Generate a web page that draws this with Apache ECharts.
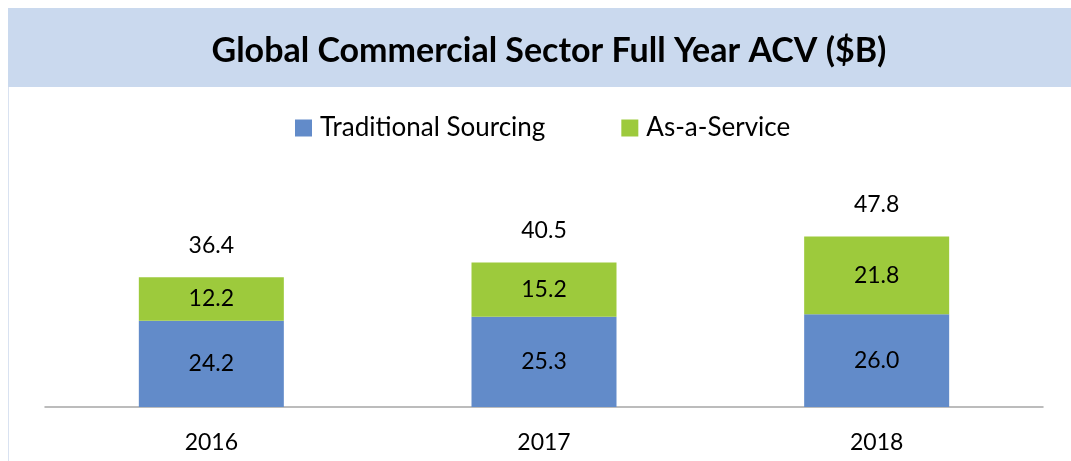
<!DOCTYPE html>
<html>
<head>
<meta charset="utf-8">
<script src="https://cdn.jsdelivr.net/npm/echarts@6/dist/echarts.min.js"></script>
<style>
html,body{margin:0;padding:0;background:#fff;}
#c{width:1071px;height:461px;}
</style>
</head>
<body>
<div id="c"></div>
<script>
var categories = ['2016', '2017', '2018'];
var traditional = [24.2, 25.3, 26.0];
var asAService = [12.2, 15.2, 21.8];
var totals = [36.4, 40.5, 47.8];
var seriesNames = ['Traditional Sourcing', 'As-a-Service'];
var titleText = 'Global Commercial Sector Full Year ACV ($B)';

var FONT = 'Lato';
var chart = echarts.init(document.getElementById('c'), null, {renderer: 'canvas'});
chart.setOption({
  backgroundColor: '#ffffff',
  animation: false,
  graphic: [
    {type: 'rect', shape: {x: 8.5, y: 8.5, width: 1075, height: 470}, style: {fill: 'none', stroke: '#d9e2f1', lineWidth: 1}, z: 0},
    {type: 'rect', shape: {x: 8, y: 8, width: 1063, height: 79}, style: {fill: '#cad9ee'}, z: 0},
    {type: 'text', x: 549, y: 51, style: {text: titleText, font: 'bold 34px ' + FONT, fill: '#000', align: 'center', verticalAlign: 'middle'}, z: 1}
  ],
  legend: {
    data: seriesNames,
    top: 115,
    left: 295,
    padding: 0,
    itemWidth: 17,
    itemHeight: 17,
    itemGap: 76,
    icon: 'rect',
    textStyle: {fontFamily: FONT, fontSize: 26, color: '#000', padding: [0, 0, 0, 3]}
  },
  grid: {left: 45, right: 28, top: 193, bottom: 54},
  xAxis: {
    type: 'category',
    data: categories,
    axisLine: {lineStyle: {color: '#a6a6a6', width: 1.5}},
    axisTick: {show: false},
    axisLabel: {fontFamily: FONT, fontSize: 23, color: '#000', margin: 24}
  },
  yAxis: {
    type: 'value',
    min: 0, max: 60,
    show: false,
    splitLine: {show: false}
  },
  series: [
    {
      name: seriesNames[0], type: 'bar', stack: 'acv', data: traditional,
      barWidth: 145,
      itemStyle: {color: '#628bc9'},
      label: {show: true, position: 'inside', fontFamily: FONT, fontSize: 23, color: '#000', formatter: function (p) { return p.value.toFixed(1); }}
    },
    {
      name: seriesNames[1], type: 'bar', stack: 'acv', data: asAService,
      barWidth: 145,
      itemStyle: {color: '#9dca3c'},
      label: {show: true, position: 'inside', fontFamily: FONT, fontSize: 23, color: '#000', formatter: function (p) { return p.value.toFixed(1); }}
    },
    {
      name: 'Total', type: 'bar', stack: 'acv', data: totals.map(function () { return 0; }),
      barWidth: 145,
      itemStyle: {color: 'rgba(0,0,0,0)'},
      label: {show: true, position: 'top', distance: 20, fontFamily: FONT, fontSize: 23, color: '#000', formatter: function (p) { return totals[p.dataIndex].toFixed(1); }}
    }
  ]
});
</script>
</body>
</html>
